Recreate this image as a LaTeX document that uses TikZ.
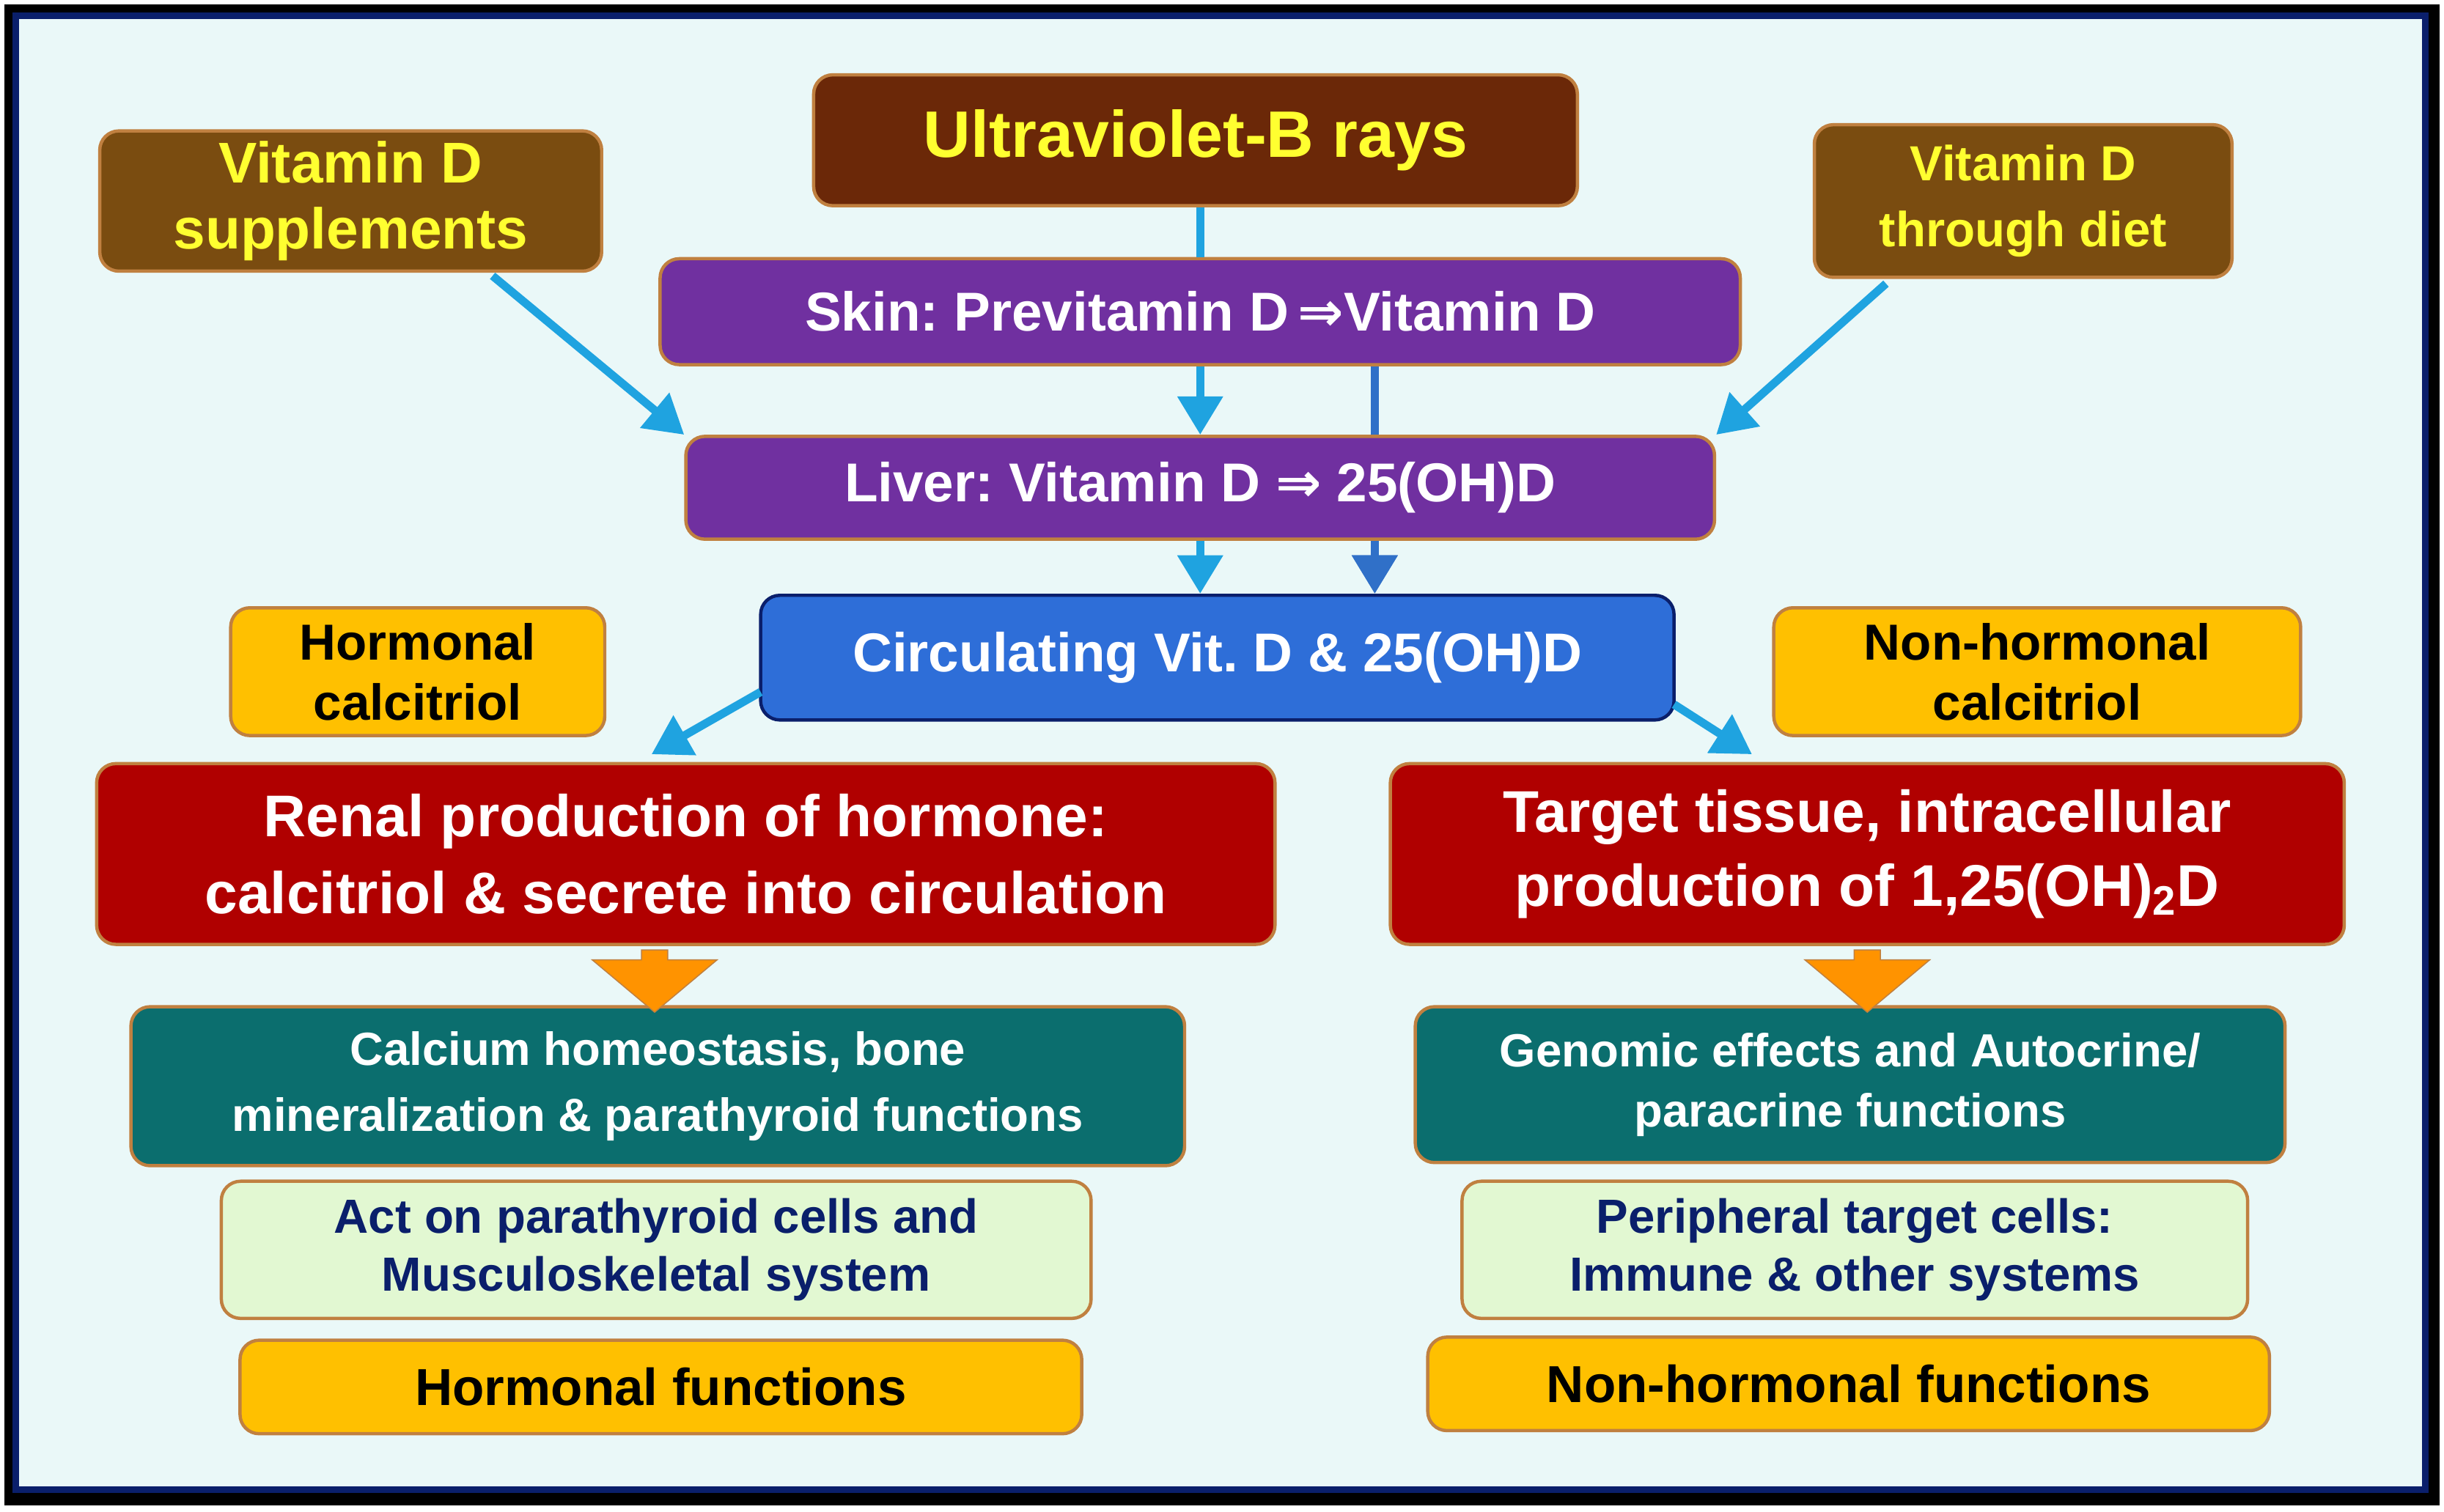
\documentclass[tikz,border=0pt]{standalone}
\usepackage{fontspec}
\setmainfont{Liberation Sans}
\newfontfamily\djv{DejaVu Sans}
\frenchspacing
\usetikzlibrary{arrows.meta,shapes.arrows}
\pgfdeclarelayer{bg}
\pgfsetlayers{bg,main}
\definecolor{bgc}{HTML}{EAF8F8}
\definecolor{navy}{HTML}{0A1F6B}
\definecolor{brn}{HTML}{6B2808}
\definecolor{brn2}{HTML}{7A4C10}
\definecolor{ylw}{HTML}{FFFF30}
\definecolor{purp}{HTML}{7030A0}
\definecolor{blu}{HTML}{2E6ED8}
\definecolor{orn}{HTML}{FFC000}
\definecolor{dred}{HTML}{B00000}
\definecolor{teal}{HTML}{0B6E6E}
\definecolor{lgrn}{HTML}{E2F8D2}
\definecolor{edge}{HTML}{C08040}
\definecolor{arr}{HTML}{1FA3E0}
\definecolor{arr2}{HTML}{3070C8}
\tikzset{
 bx/.style={draw=edge,line width=1.2pt,rounded corners=7pt,align=center,font=\bfseries,inner sep=0pt},
 arw/.style={draw=arr,line width=3pt,-{Triangle[length=14pt,width=16pt]}},
 blk/.style={single arrow,draw=edge,fill=orange!85!yellow,shape border rotate=270,minimum width=80*0.02cm,single arrow head extend=12pt,minimum height=40*0.02cm,inner sep=3pt,single arrow tip angle=100},
}
\newcommand{\dimp}{{\djv ⇒}}
\begin{document}
\begin{tikzpicture}[x=0.02cm,y=-0.02cm]
\useasboundingbox (0,0) rectangle (1568,970);
\begin{pgfonlayer}{bg}
\fill[black] (3,3) rectangle (1565,966);
\fill[bgc,draw=navy,line width=2.5pt] (10,10) rectangle (1556,956);
\end{pgfonlayer}
% nodes
\node[bx,fill=brn,text=ylw,minimum width=490*0.02cm,minimum height=84*0.02cm,font=\bfseries\fontsize{24}{28}\selectfont] (uv) at (767,90) {Ultraviolet-B rays};
\node[bx,fill=brn2,text=ylw,minimum width=322*0.02cm,minimum height=90*0.02cm,font=\bfseries\fontsize{21}{24}\selectfont] (sup) at (225,129) {Vitamin D\\supplements};
\node[bx,fill=brn2,text=ylw,minimum width=268*0.02cm,minimum height=98*0.02cm,font=\bfseries\fontsize{18}{24}\selectfont] (diet) at (1298,129) {Vitamin D\\through diet};
\node[bx,fill=purp,text=white,minimum width=693*0.02cm,minimum height=68*0.02cm,font=\bfseries\fontsize{20}{24}\selectfont] (skin) at (770,200) {Skin: Previtamin D\,\dimp Vitamin D};
\node[bx,fill=purp,text=white,minimum width=660*0.02cm,minimum height=66*0.02cm,font=\bfseries\fontsize{20}{24}\selectfont] (liv) at (770,313) {Liver: Vitamin D \dimp\ 25(OH)D};
\node[bx,fill=blu,draw=navy,text=white,minimum width=586*0.02cm,minimum height=80*0.02cm,font=\bfseries\fontsize{20}{24}\selectfont] (circ) at (781,422) {Circulating Vit. D \& 25(OH)D};
\node[bx,fill=orn,minimum width=240*0.02cm,minimum height=82*0.02cm,font=\bfseries\fontsize{18.5}{22}\selectfont] (hc) at (268,431) {Hormonal\\calcitriol};
\node[bx,fill=orn,minimum width=338*0.02cm,minimum height=82*0.02cm,font=\bfseries\fontsize{18.5}{22}\selectfont] (nhc) at (1307,431) {Non-hormonal\\calcitriol};
\node[bx,fill=dred,text=white,minimum width=756*0.02cm,minimum height=116*0.02cm,font=\bfseries\fontsize{21.5}{28}\selectfont] (ren) at (440,548) {Renal production of hormone:\\calcitriol \& secrete into circulation};
\node[bx,fill=dred,text=white,minimum width=612*0.02cm,minimum height=116*0.02cm,font=\bfseries\fontsize{21.5}{27}\selectfont] (tgt) at (1198,548) {Target tissue, intracellular\\production of 1,25(OH)\textsubscript{2}D};
\node[bx,fill=teal,text=white,minimum width=676*0.02cm,minimum height=102*0.02cm,font=\bfseries\fontsize{17}{24}\selectfont] (cal) at (422,697) {Calcium homeostasis, bone\\mineralization \& parathyroid functions};
\node[bx,fill=teal,text=white,minimum width=558*0.02cm,minimum height=100*0.02cm,font=\bfseries\fontsize{17}{22}\selectfont] (gen) at (1187,696) {Genomic effects and Autocrine/\\paracrine functions};
\node[bx,fill=lgrn,text=navy,minimum width=558*0.02cm,minimum height=88*0.02cm,font=\bfseries\fontsize{17.5}{21}\selectfont] (act) at (421,802) {Act on parathyroid cells and\\Musculoskeletal system};
\node[bx,fill=lgrn,text=navy,minimum width=504*0.02cm,minimum height=88*0.02cm,font=\bfseries\fontsize{17.5}{21}\selectfont] (per) at (1190,802) {Peripheral target cells:\\Immune \& other systems};
\node[bx,fill=orn,minimum width=540*0.02cm,minimum height=60*0.02cm,font=\bfseries\fontsize{19}{22}\selectfont] (hf) at (424,890) {Hormonal functions};
\node[bx,fill=orn,minimum width=540*0.02cm,minimum height=60*0.02cm,font=\bfseries\fontsize{19}{22}\selectfont] (nhf) at (1186,888) {Non-hormonal functions};
% connectors
\begin{pgfonlayer}{bg}
\draw[draw=arr2,line width=3pt,-{Triangle[length=14pt,width=16pt]}] (skin.south -| 882,0) -- (circ.north -| 882,0);
\end{pgfonlayer}
\draw[arr,line width=3pt] (uv.south -| 770,0) -- (skin.north -| 770,0);
\draw[arw] (skin.south -| 770,0) -- (liv.north -| 770,0);
\draw[arw] (liv.south -| 770,0) -- (circ.north -| 770,0);
\draw[draw=arr2,line width=3pt,-{Triangle[length=14pt,width=16pt]}] (liv.south -| 882,0) -- (circ.north -| 882,0);
\coordinate (s1) at (316,177); \coordinate (s2) at (1210,182);
\draw[arw] (s1) -- (liv.north west);
\draw[arw] (s2) -- (liv.north east);
\coordinate (c1) at (488,444); \coordinate (r1) at (418,484);
\coordinate (c2) at (1074,452); \coordinate (r2) at (1124,484);
\draw[arw] (c1) -- (r1);
\draw[arw] (c2) -- (r2);
\node[blk] (a1) at (420,626) {};
\node[blk] (a2) at (1198,626) {};
\end{tikzpicture}
\end{document}
